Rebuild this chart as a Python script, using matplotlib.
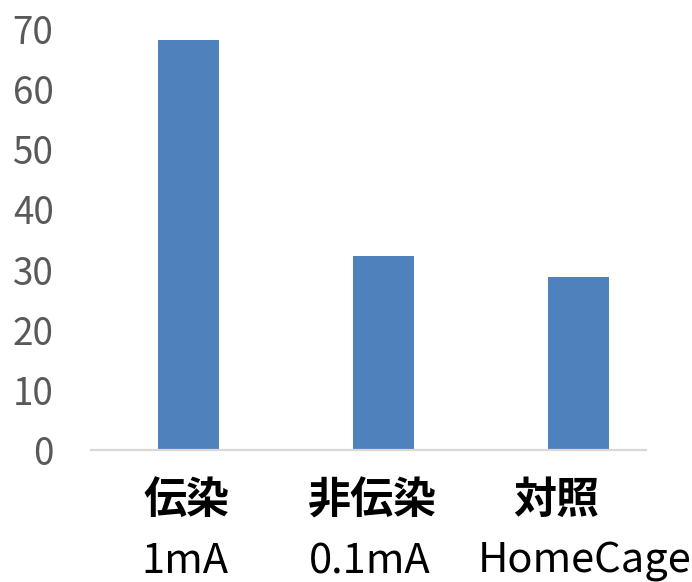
import matplotlib.pyplot as plt

plt.rcParams['font.family'] = ['Noto Sans CJK JP', 'DejaVu Sans']

# Bar data
groups = ['伝染', '非伝染', '対照']
currents = ['1mA', '0.1mA', 'HomeCage']
values = [68.1, 32.2, 28.7]

fig = plt.figure(figsize=(6.92, 5.82), dpi=100)
ax = fig.add_axes([91 / 692, 132 / 582, 555 / 692, 421 / 582])

x = range(len(groups))
ax.bar(x, values, width=0.313, color='#4F81BD')

ax.set_ylim(0, 70)
ax.set_xlim(-0.5, 2.346)
ax.set_yticks(range(0, 71, 10))
ax.tick_params(axis='y', length=0, pad=27, labelsize=26.5, labelcolor='#595959')
ax.set_xticks([])

for side in ['top', 'right', 'left']:
    ax.spines[side].set_visible(False)
ax.spines['bottom'].set_color('#D9D9D9')
ax.spines['bottom'].set_linewidth(1.6)

# two-line category labels under each bar
shift_top = [-2, -11, -22]
shift_bottom = [-4, -14, 6]
for i in x:
    ax.annotate(groups[i], (i, 0), xycoords=('data', 'axes fraction'),
                xytext=(shift_top[i], -50), textcoords='offset pixels',
                ha='center', va='center', fontsize=31, fontweight='bold',
                color='black')
    ax.annotate(currents[i], (i, 0), xycoords=('data', 'axes fraction'),
                xytext=(shift_bottom[i], -123), textcoords='offset pixels',
                ha='center', va='baseline', fontsize=30, color='black')

fig.savefig('out.png', dpi=100)
